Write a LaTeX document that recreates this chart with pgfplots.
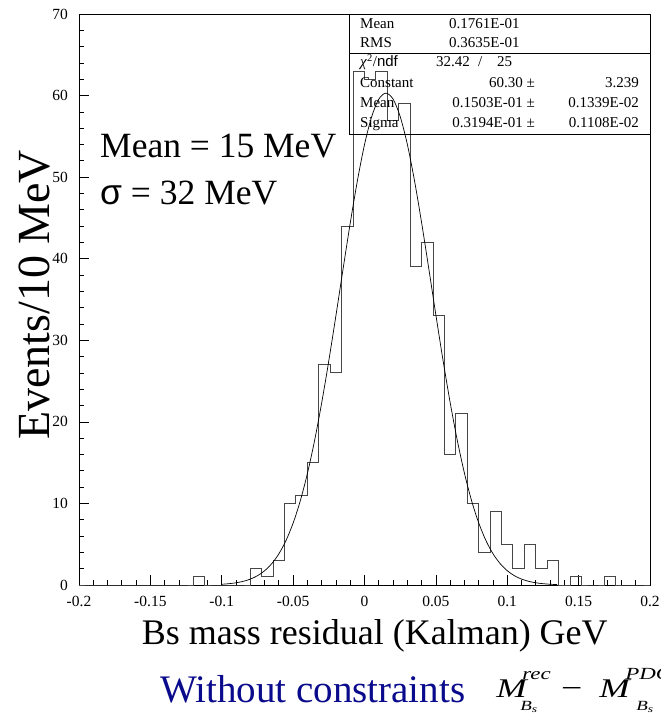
\documentclass[border=0pt]{standalone}
\usepackage{fontspec}
\setmainfont{Liberation Serif}
\setsansfont{Liberation Sans}
\usepackage{pgfplots}
\pgfplotsset{compat=1.18}
\definecolor{TitleBlue}{RGB}{10,10,140}
\definecolor{HistGray}{RGB}{70,70,70}

\newcommand{\fs}[1]{\fontsize{#1}{#1}\selectfont}
% piece of the formula placed at a horizontal offset, zero width
\newcommand{\at}[2]{\makebox[0pt][l]{\hspace*{#1}#2}}

\begin{document}
\begin{tikzpicture}[x=1pt,y=1pt]
\useasboundingbox (0,0) rectangle (661,713);
\begin{axis}[
    at={(79pt,128pt)}, anchor=south west,
    scale only axis, width=571pt, height=571pt,
    xmin=-0.2, xmax=0.2, ymin=0, ymax=70,
    xtick={-0.2,-0.15,-0.1,-0.05,0,0.05,0.1,0.15,0.2},
    xticklabels={-0.2,-0.15,-0.1,-0.05,0,0.05,0.1,0.15,0.2},
    ytick={0,10,20,30,40,50,60,70},
    yticklabels={0,10,20,30,40,50,60,70},
    minor x tick num=4, minor y tick num=4,
    tick align=inside, xtick pos=bottom, ytick pos=left,
    major tick length=10pt, minor tick length=5pt,
    tick style={black, line width=0.7pt},
    axis line style={line width=0.9pt},
    ticklabel style={font=\fs{15.5}},
    xticklabel style={inner sep=0pt, anchor=north, yshift=-11pt},
    yticklabel style={inner sep=0pt, anchor=east, xshift=-11pt},
    xlabel={Bs mass residual (Kalman) GeV},
    xlabel style={font=\fs{36}, at={(axis description cs:0.518,-0.105)}, anchor=base, inner sep=0pt},
    ylabel={Events/10 MeV},
    ylabel style={font=\fs{46}, at={(axis description cs:-0.0508,0.508)}, anchor=base, inner sep=0pt},
]
% histogram, 50 bins of 8 MeV, left edges
\addplot[const plot, draw=HistGray, line width=1pt] coordinates {
(-0.200,0) (-0.192,0) (-0.184,0) (-0.176,0) (-0.168,0)
(-0.160,0) (-0.152,0) (-0.144,0) (-0.136,0) (-0.128,0)
(-0.120,1) (-0.112,0) (-0.104,0) (-0.096,0) (-0.088,0)
(-0.080,2) (-0.072,1) (-0.064,3) (-0.056,10) (-0.048,11)
(-0.040,15) (-0.032,27) (-0.024,26) (-0.016,44) (-0.008,63)
(0.000,62) (0.008,63) (0.016,57) (0.024,59) (0.032,39)
(0.040,42) (0.048,33) (0.056,16) (0.064,21) (0.072,10)
(0.080,4) (0.088,9) (0.096,5) (0.104,2) (0.112,5)
(0.120,2) (0.128,3) (0.136,0) (0.144,1) (0.152,0)
(0.160,0) (0.168,1) (0.176,0) (0.184,0) (0.192,0)
(0.200,0)
};
% gaussian fit curve
\addplot[black, line width=0.7pt, smooth] coordinates {
(-0.100,0.092) (-0.095,0.160) (-0.090,0.271) (-0.085,0.447) (-0.080,0.721)
(-0.075,1.135) (-0.070,1.743) (-0.065,2.612) (-0.060,3.819) (-0.055,5.450)
(-0.050,7.589) (-0.045,10.311) (-0.040,13.669) (-0.035,17.682) (-0.030,22.320)
(-0.025,27.494) (-0.020,33.046) (-0.015,38.758) (-0.010,44.357) (-0.005,49.535)
(0.000,53.980) (0.005,57.399) (0.010,59.557) (0.015,60.300) (0.020,59.575)
(0.025,57.433) (0.030,54.028) (0.035,49.594) (0.040,44.423) (0.045,38.826)
(0.050,33.114) (0.055,27.558) (0.060,22.379) (0.065,17.734) (0.070,13.714)
(0.075,10.345) (0.080,7.618) (0.085,5.472) (0.090,3.837) (0.095,2.625)
(0.100,1.752) (0.105,1.141) (0.110,0.725) (0.115,0.450) (0.120,0.272)
(0.125,0.161) (0.130,0.093) (0.135,0.052)
};
\end{axis}

% stats box
\draw[line width=0.9pt] (349,579) rectangle (650,699);
\draw[line width=0.9pt] (349,660) -- (650,660);
\begin{scope}[every node/.style={inner sep=0pt, font=\fs{15}}]
\node[anchor=base west] at (360,684) {Mean};
\node[anchor=base west] at (449,684) {0.1761E-01};
\node[anchor=base west] at (360,665) {RMS};
\node[anchor=base west] at (449,665) {0.3635E-01};
\node[anchor=base west] at (360,646) {\textit{χ}\textsuperscript{2}/{\sffamily ndf}};
\node[anchor=base west] at (436,646) {32.42};
\node[anchor=base west] at (478,646) {/};
\node[anchor=base west] at (497,646) {25};
\node[anchor=base west] at (360,625) {Constant};
\node[anchor=base east] at (535,625) {60.30 ±};
\node[anchor=base east] at (639,625) {3.239};
\node[anchor=base west] at (360,605) {Mean};
\node[anchor=base east] at (535,605) {0.1503E-01 ±};
\node[anchor=base east] at (639,605) {0.1339E-02};
\node[anchor=base west] at (360,585) {Sigma};
\node[anchor=base east] at (535,585) {0.3194E-01 ±};
\node[anchor=base east] at (639,585) {0.1108E-02};
\end{scope}

% fit summary
\node[anchor=base west, inner sep=0pt, font=\fs{35.5}] at (100,555) {Mean = 15 MeV};
\node[anchor=base west, inner sep=0pt, font=\fs{35.5}] at (100,508) {{\sffamily σ} = 32 MeV};

% caption line
\node[anchor=base west, inner sep=0pt, font=\fs{39}, text=TitleBlue] at (160,10) {Without constraints};
\node[anchor=base west, inner sep=0pt, xscale=1.35, font=\fs{27}\itshape] at (496,16) {%
\at{0pt}{M}%
\at{19.3pt}{\raisebox{18pt}{\fs{17}rec}}%
\at{17.8pt}{\raisebox{-13pt}{\fs{14}B\fs{10}\raisebox{-2pt}{s}}}%
\at{48.1pt}{\upshape\fs{28}−}%
\at{76.3pt}{M}%
\at{95.6pt}{\raisebox{18pt}{\fs{17}PDG}}%
\at{103.7pt}{\raisebox{-13pt}{\fs{14}B\fs{10}\raisebox{-2pt}{s}}}%
\hspace*{120pt}};
\end{tikzpicture}
\end{document}
